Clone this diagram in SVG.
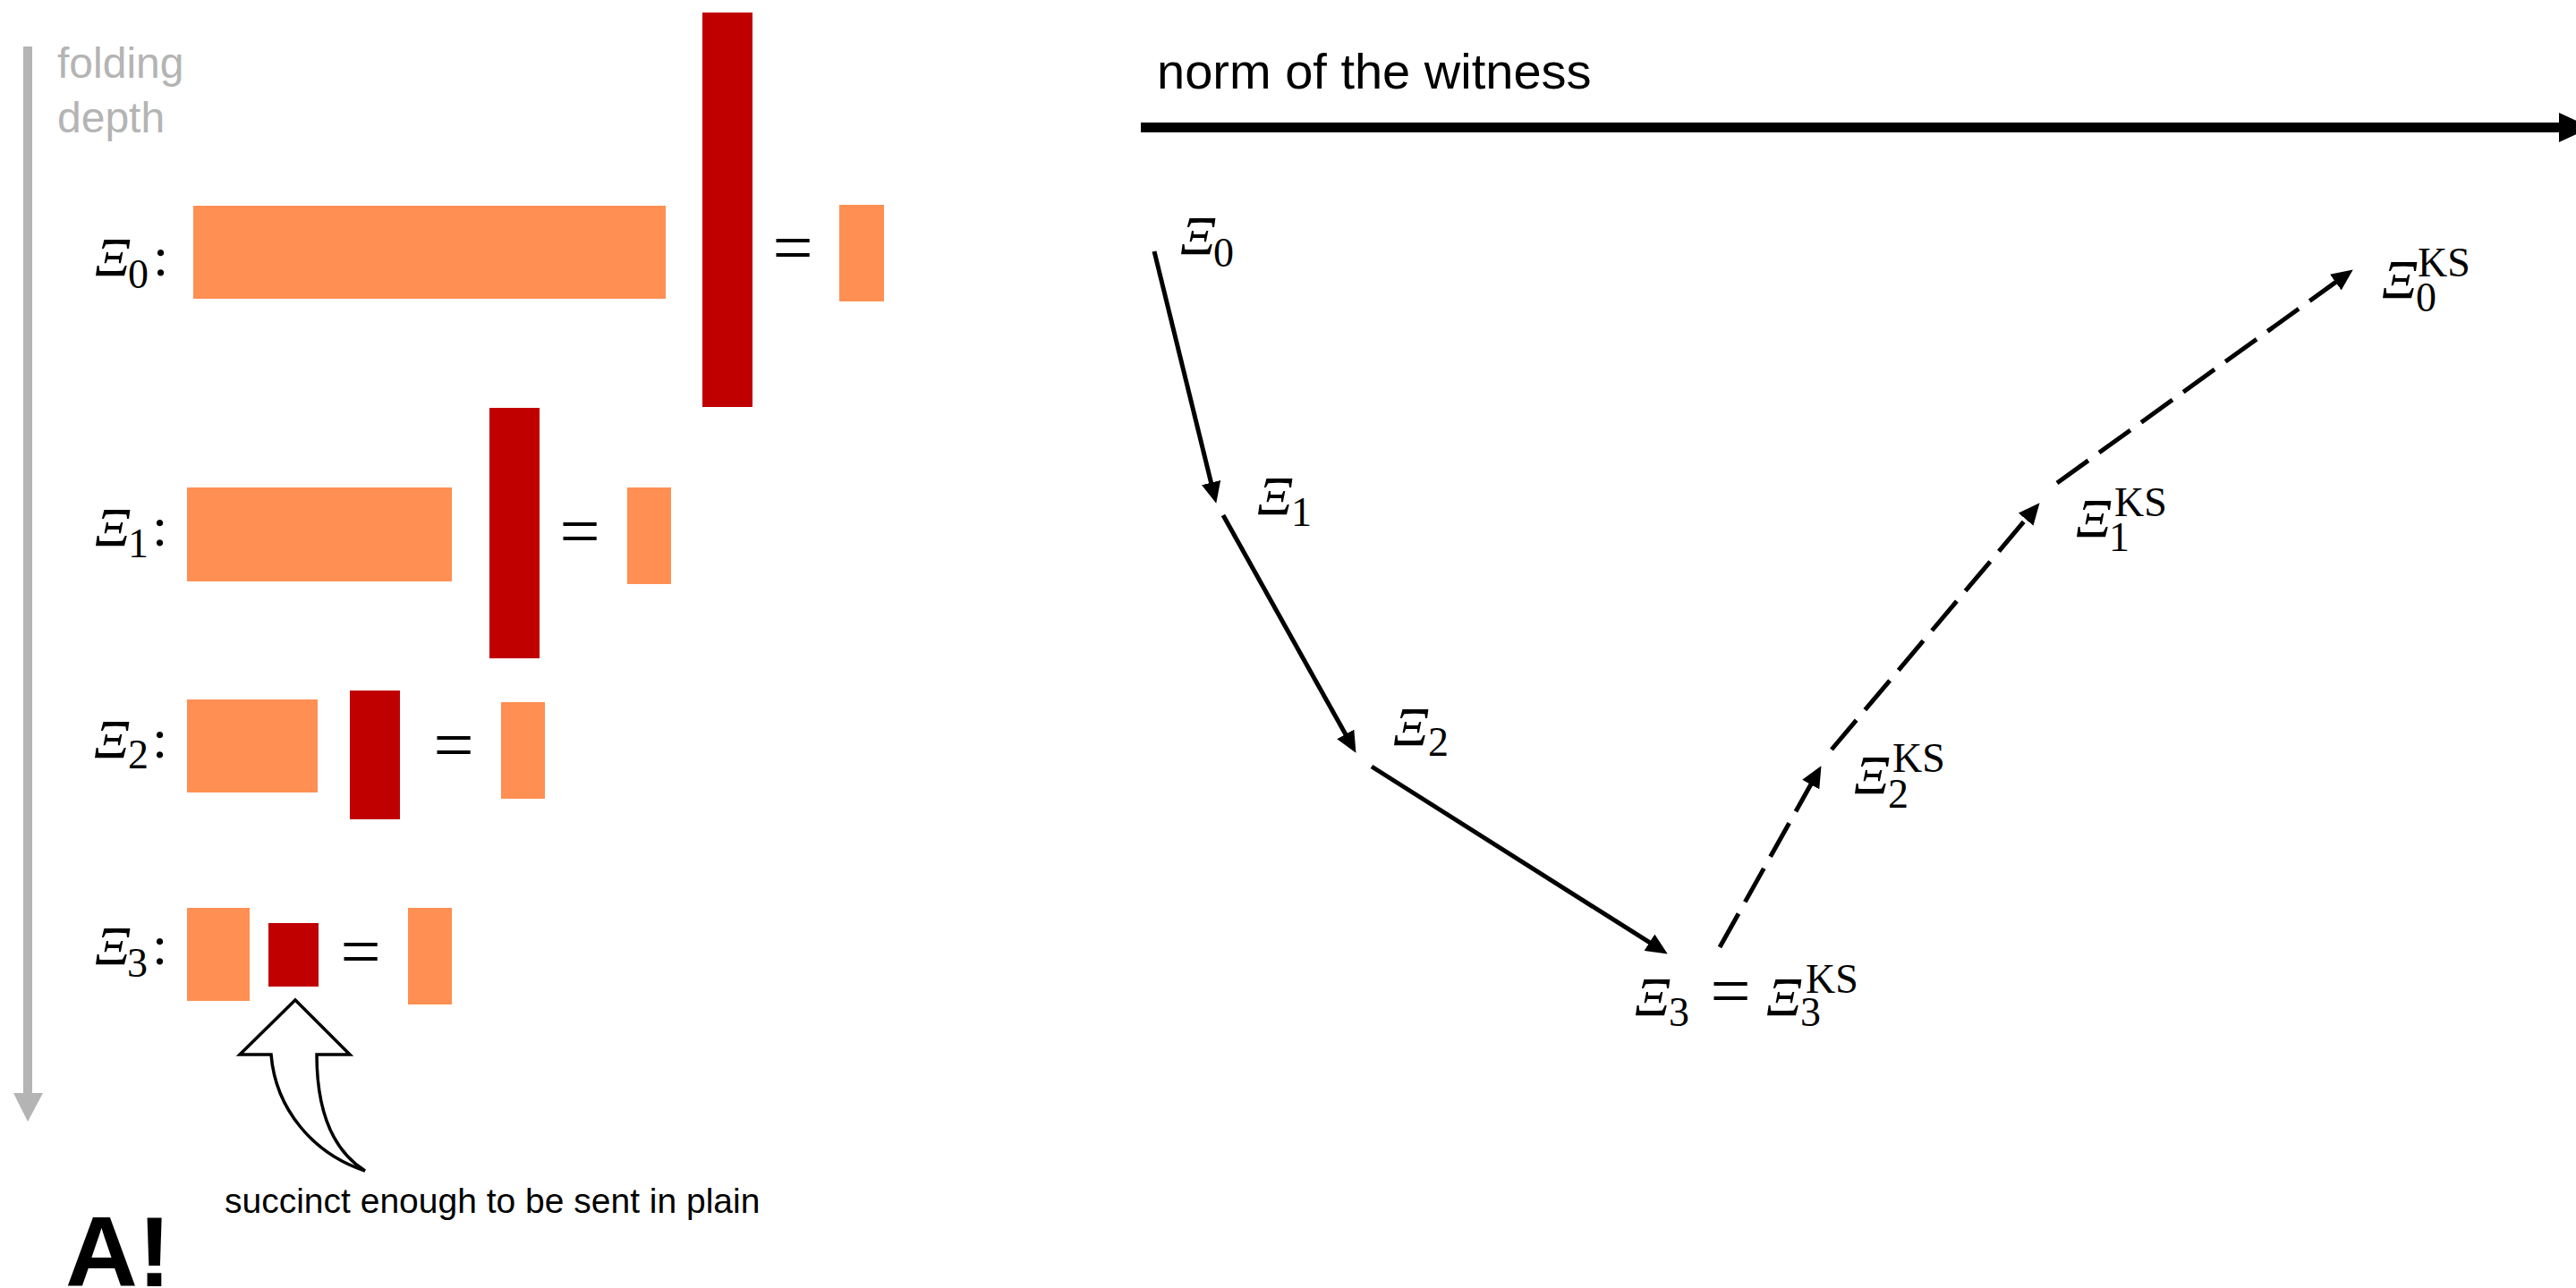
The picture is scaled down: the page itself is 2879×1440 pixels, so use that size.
<svg xmlns="http://www.w3.org/2000/svg" width="2879" height="1440" viewBox="0 0 2879 1440">
<style>
.or{fill:#FF8F52}
.rd{fill:#C00000}
.xi{font-family:"Liberation Serif","DejaVu Serif",serif;font-style:italic;font-size:62px;fill:#000}
.sb{font-family:"Liberation Serif","DejaVu Serif",serif;font-size:46px;fill:#000}
.col{font-family:"Liberation Serif","DejaVu Serif",serif;font-size:62px;fill:#000}
.eq{font-family:"Liberation Serif","DejaVu Serif",serif;font-size:80px;fill:#000;text-anchor:middle}
.sans{font-family:"Liberation Sans",Arial,sans-serif}
.gray{fill:#B4B4B4}
.conn{stroke:#000;stroke-width:5;fill:none}
.dash{stroke-dasharray:43 15}
</style>
<defs>
<marker id="ah" markerUnits="userSpaceOnUse" markerWidth="24" markerHeight="22" viewBox="0 0 22 20" refX="1" refY="10" orient="auto">
<path d="M0,0 L22,10 L0,20 Z" fill="#000"/>
</marker>
</defs>

<!-- folding depth axis -->
<g id="depth-axis">
<rect class="gray" x="26" y="52" width="10" height="1172"/>
<polygon class="gray" points="15,1222 48,1222 31,1254"/>
<text class="sans gray" x="64" y="87" font-size="48">folding</text>
<text class="sans gray" x="64" y="148" font-size="48">depth</text>
</g>

<!-- row 0 -->
<g id="row0">
<text class="xi" x="106" y="308">Ξ</text><text class="sb" x="143" y="322">0</text><text class="col" x="171" y="308">:</text>
<rect class="or" x="216" y="230" width="528" height="104"/>
<rect class="rd" x="785" y="14" width="56" height="441"/>
<text class="eq" x="886" y="304">=</text>
<rect class="or" x="938" y="229" width="50" height="108"/>
</g>

<!-- row 1 -->
<g id="row1">
<text class="xi" x="106" y="610">Ξ</text><text class="sb" x="143" y="623">1</text><text class="col" x="170" y="610">:</text>
<rect class="or" x="209" y="545" width="296" height="105"/>
<rect class="rd" x="547" y="456" width="56" height="280"/>
<text class="eq" x="648" y="621">=</text>
<rect class="or" x="701" y="545" width="49" height="108"/>
</g>

<!-- row 2 -->
<g id="row2">
<text class="xi" x="105" y="847">Ξ</text><text class="sb" x="143" y="859">2</text><text class="col" x="170" y="847">:</text>
<rect class="or" x="209" y="782" width="146" height="104"/>
<rect class="rd" x="391" y="772" width="56" height="144"/>
<text class="eq" x="507" y="860">=</text>
<rect class="or" x="560" y="785" width="49" height="108"/>
</g>

<!-- row 3 -->
<g id="row3">
<text class="xi" x="106" y="1078">Ξ</text><text class="sb" x="142" y="1092">3</text><text class="col" x="170" y="1078">:</text>
<rect class="or" x="209" y="1015" width="70" height="104"/>
<rect class="rd" x="300" y="1032" width="56" height="71"/>
<text class="eq" x="403" y="1091">=</text>
<rect class="or" x="456" y="1015" width="49" height="108"/>
</g>

<!-- callout -->
<g id="callout">
<path d="M330,1118 L391,1179 L354,1179 C354,1240 370,1285 408,1309 C350,1290 308,1240 303,1179 L268,1179 Z" fill="#fff" stroke="#000" stroke-width="3.5" stroke-linejoin="miter"/>
<text class="sans" x="251" y="1356" font-size="39">succinct enough to be sent in plain</text>
</g>

<g id="logo">
<text class="sans" x="73" y="1438" font-size="112" font-weight="bold">A!</text>
</g>

<!-- norm axis -->
<g id="norm-axis">
<text class="sans" x="1293" y="99" font-size="56">norm of the witness</text>
<rect x="1275" y="137" width="1590" height="11" fill="#000"/>
<polygon points="2860,126 2896,142.5 2860,159" fill="#000"/>
</g>

<!-- nodes -->
<g id="n-xi0">
<text class="xi" x="1319" y="284">Ξ</text><text class="sb" x="1356" y="298">0</text>
</g>
<g id="n-xi1">
<text class="xi" x="1405" y="575">Ξ</text><text class="sb" x="1443" y="588">1</text>
</g>
<g id="n-xi2">
<text class="xi" x="1557" y="833">Ξ</text><text class="sb" x="1596" y="845">2</text>
</g>
<g id="n-xi3">
<text class="xi" x="1827" y="1135">Ξ</text><text class="sb" x="1865" y="1147">3</text>
<text class="eq" x="1934" y="1135">=</text>
<text class="xi" x="1974" y="1135">Ξ</text><text class="sb" x="2012" y="1147">3</text><text class="sb" x="2018" y="1110">KS</text>
</g>
<g id="n-xi2ks">
<text class="xi" x="2072" y="887">Ξ</text><text class="sb" x="2110" y="903">2</text><text class="sb" x="2115" y="863">KS</text>
</g>
<g id="n-xi1ks">
<text class="xi" x="2320" y="600">Ξ</text><text class="sb" x="2357" y="616">1</text><text class="sb" x="2363" y="577">KS</text>
</g>
<g id="n-xi0ks">
<text class="xi" x="2662" y="333">Ξ</text><text class="sb" x="2700" y="348">0</text><text class="sb" x="2702" y="309">KS</text>
</g>

<!-- connectors -->
<g id="connectors">
<line class="conn" x1="1290" y1="281" x2="1353.8" y2="540.6" marker-end="url(#ah)"/>
<line class="conn" x1="1367" y1="576" x2="1504.3" y2="821.8" marker-end="url(#ah)"/>
<line class="conn" x1="1533" y1="857" x2="1844.4" y2="1054.2" marker-end="url(#ah)"/>
<line class="conn dash" x1="1922" y1="1059" x2="2024.3" y2="876.2" marker-end="url(#ah)"/>
<line class="conn dash" x1="2047" y1="838" x2="2264.8" y2="579.8" marker-end="url(#ah)"/>
<line class="conn dash" x1="2299" y1="540" x2="2611.2" y2="314.9" marker-end="url(#ah)"/>
</g>
</svg>
